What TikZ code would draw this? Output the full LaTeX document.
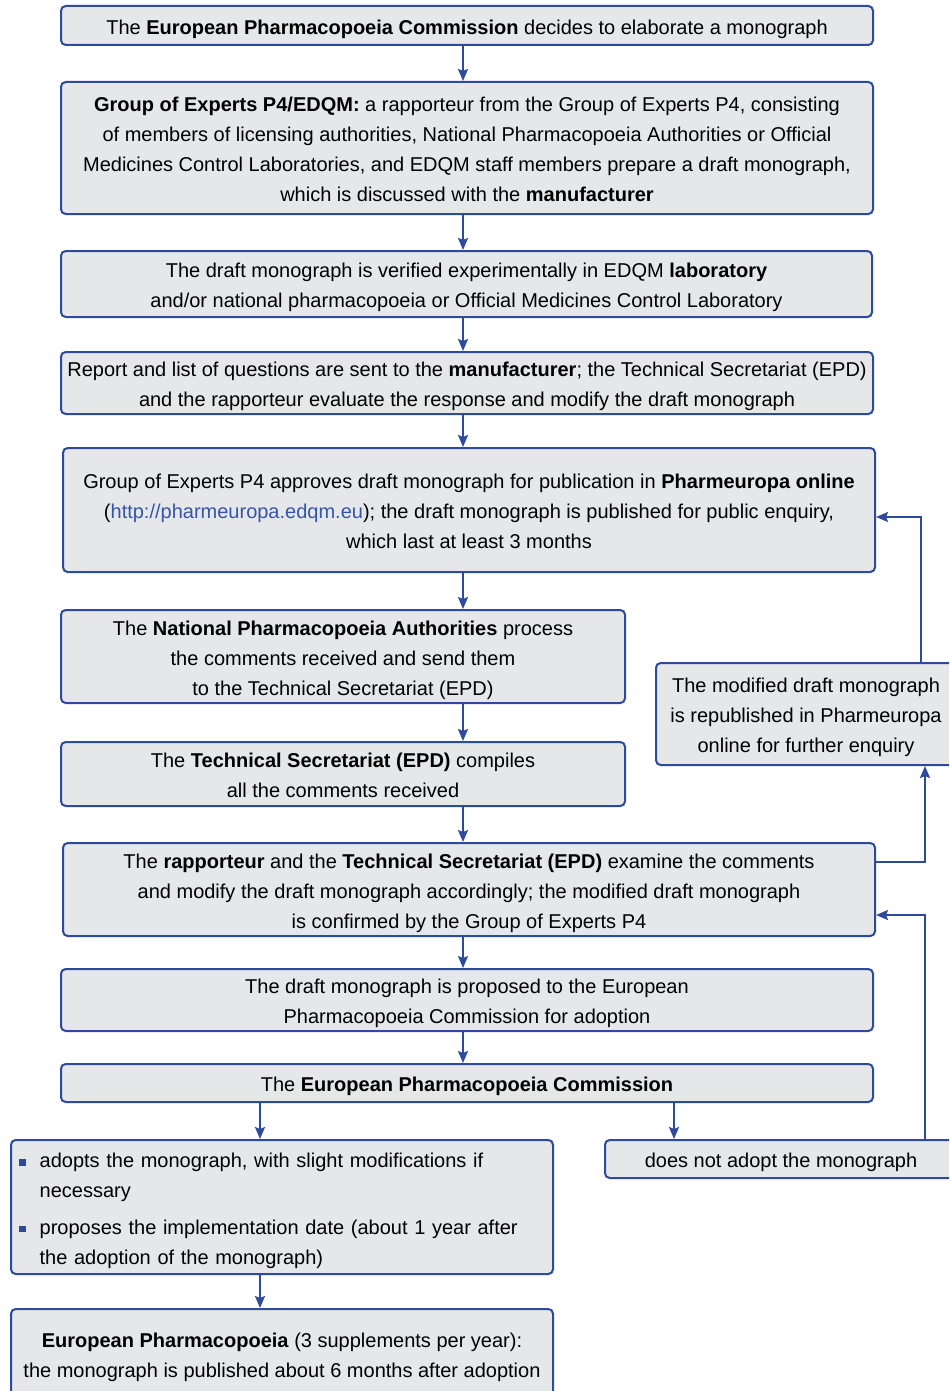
\documentclass[tikz,border=0pt]{standalone}
\usepackage{fontspec}
\setmainfont{Liberation Sans}
\usetikzlibrary{arrows.meta}
\definecolor{epblue}{HTML}{2D4A9C}
\definecolor{eplink}{HTML}{3556A8}
\definecolor{epfill}{HTML}{E6E7E9}
\newcommand{\epstrutA}{\rule{0pt}{16.6pt}}
\newcommand{\epstrut}{\rule[-3.3pt]{0pt}{3.3pt}}
\tikzset{
  box/.style={draw=epblue, fill=epfill, line width=1.5pt, rounded corners=3.5pt,
    inner sep=0pt, align=center, font=\fontsize{15}{22.5}\selectfont,
    execute at begin node={\epstrutA}},
  arr/.style={draw=epblue, line width=1.5pt, -{Stealth[length=9pt,width=7.5pt,inset=1.5pt]}},
}
\newcommand{\bsq}{\textcolor{epblue}{\rule[1.5pt]{5pt}{5pt}}}
\begin{document}
\begin{tikzpicture}[x=0.75pt,y=-0.75pt]
\useasboundingbox (0,0) rectangle (949,1391);
\clip (0,0) rectangle (949,1391);
\coordinate (col) at (463,0);
\coordinate (cl) at (260,0);
\coordinate (cr) at (674,0);
\coordinate (xr) at (925,862);
\coordinate (xt) at (921,517);
\coordinate (xb) at (925,915);

\node[box, minimum width=609pt, minimum height=29.25pt] (b1) at (467,25.5) {The \textbf{European Pharmacopoeia Commission} decides to elaborate a monograph\epstrut};
\node[box, minimum width=609pt, minimum height=99pt] (b2) at (467,148) {\epstrutA\textbf{Group of Experts P4/EDQM:} a rapporteur from the Group of Experts P4, consisting\\
of members of licensing authorities, National Pharmacopoeia Authorities or Official\\
Medicines Control Laboratories, and EDQM staff members prepare a draft monograph,\\
which is discussed with the \textbf{manufacturer}\epstrut};
\node[box, minimum width=608.25pt, minimum height=49.5pt] (b3) at (466.5,284) {\epstrutA The draft monograph is verified experimentally in EDQM \textbf{laboratory}\\
and/or national pharmacopoeia or Official Medicines Control Laboratory\epstrut};
\node[box, minimum width=609pt, minimum height=46.5pt] (b4) at (467,383) {\epstrutA Report and list of questions are sent to the \textbf{manufacturer}; the Technical Secretariat (EPD)\\
and the rapporteur evaluate the response and modify the draft monograph\epstrut};
\node[box, minimum width=609pt, minimum height=93pt] (b5) at (469,510) {\epstrutA Group of Experts P4 approves draft monograph for publication in \textbf{Pharmeuropa online}\\
(\textcolor{eplink}{http://pharmeuropa.edqm.eu}); the draft monograph is published for public enquiry,\\
which last at least 3 months\epstrut};
\node[box, minimum width=423pt, minimum height=69.75pt] (b6) at (343,656.5) {\epstrutA The \textbf{National Pharmacopoeia Authorities} process\\
the comments received and send them\\
to the Technical Secretariat (EPD)\epstrut};
\node[box, minimum width=423pt, minimum height=48pt] (b7) at (343,774) {\epstrutA The \textbf{Technical Secretariat (EPD)} compiles\\
all the comments received\epstrut};
\node[box, minimum width=609pt, minimum height=69.75pt] (b8) at (469,889.5) {\epstrutA The \textbf{rapporteur} and the \textbf{Technical Secretariat (EPD)} examine the comments\\
and modify the draft monograph accordingly; the modified draft monograph\\
is confirmed by the Group of Experts P4\epstrut};
\node[box, minimum width=609pt, minimum height=46.5pt] (b9) at (467,1000) {\epstrutA The draft monograph is proposed to the European\\
Pharmacopoeia Commission for adoption\epstrut};
\node[box, minimum width=609pt, minimum height=28.5pt] (b10) at (467,1083) {The \textbf{European Pharmacopoeia Commission}\epstrut};
\node[box, minimum width=406.5pt, minimum height=100.5pt, align=left, text width=394.5pt] (b11) at (282,1207) {\bsq\hspace{10.5pt}adopts the monograph, with slight modifications if\\
\hspace{15.5pt}necessary\\[5pt]
\bsq\hspace{10.5pt}proposes the implementation date (about 1 year after\\
\hspace{15.5pt}the adoption of the monograph)\epstrut};
\node[box, minimum width=264pt, minimum height=28.5pt] (dna) at (781,1159) {does not adopt the monograph\epstrut};
\node[box, minimum width=406.5pt, minimum height=67.5pt] (b12) at (282,1354) {\epstrutA\textbf{European Pharmacopoeia} (3 supplements per year):\\
the monograph is published about 6 months after adoption\epstrut};
\node[box, minimum width=225pt, minimum height=76.5pt] (rb) at (806,714) {\epstrutA The modified draft monograph\\
is republished in Pharmeuropa\\
online for further enquiry\epstrut};

\draw[arr] (b1.south -| col) -- (b2.north -| col);
\draw[arr] (b2.south -| col) -- (b3.north -| col);
\draw[arr] (b3.south -| col) -- (b4.north -| col);
\draw[arr] (b4.south -| col) -- (b5.north -| col);
\draw[arr] (b5.south -| col) -- (b6.north -| col);
\draw[arr] (b6.south -| col) -- (b7.north -| col);
\draw[arr] (b7.south -| col) -- (b8.north -| col);
\draw[arr] (b8.south -| col) -- (b9.north -| col);
\draw[arr] (b9.south -| col) -- (b10.north -| col);
\draw[arr] (b10.south -| cl) -- (b11.north -| cl);
\draw[arr] (b10.south -| cr) -- (dna.north -| cr);
\draw[arr] (b11.south -| cl) -- (b12.north -| cl);
\draw[arr] (b8.east |- xr) -| (rb.south -| xr);
\draw[arr] (rb.north -| xt) |- (b5.east |- xt);
\draw[arr] (dna.north -| xb) |- (b8.east |- xb);
\end{tikzpicture}
\end{document}
